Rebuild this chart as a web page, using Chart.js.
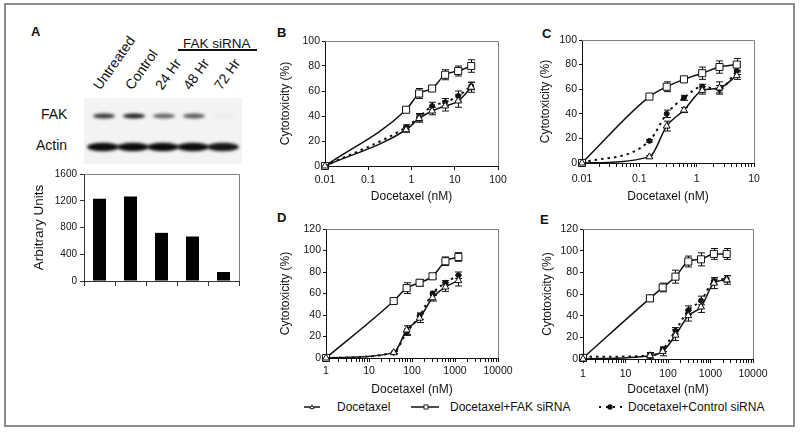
<!DOCTYPE html>
<html>
<head>
<meta charset="utf-8">
<script src="https://cdn.jsdelivr.net/npm/chart.js@4.4.1/dist/chart.umd.min.js"></script>
<style>
body { margin: 0; background: #fff; font-family: "Liberation Sans", Arial, sans-serif; }
#fig { position: relative; width: 800px; height: 435px; overflow: hidden; }
#frame { position: absolute; left: 4px; top: 3px; width: 787px; height: 420px; border: 2px solid #8c8c8c; }
canvas { position: absolute; }
.t { position: absolute; line-height: 1; white-space: nowrap; color: #111; }
.lt { font-weight: bold; font-size: 13px; }
.lane { font-size: 14px; transform-origin: 0 100%; transform: rotate(-55deg); }
.leg { font-size: 12px; }
</style>
</head>
<body>
<div id="fig">
  <div id="frame"></div>
  <div class="t lt" style="left:31px;top:25px">A</div>
  <div class="t lt" style="left:277px;top:26px">B</div>
  <div class="t lt" style="left:542px;top:27px">C</div>
  <div class="t lt" style="left:277px;top:211px">D</div>
  <div class="t lt" style="left:540px;top:213px">E</div>

  <div class="t" style="left:183px;top:37px;font-size:13.5px">FAK siRNA</div>
  <div style="position:absolute;left:178px;top:49px;width:79px;height:2px;background:#111"></div>
  <div id="lanes"></div>
  <div class="t" style="left:41px;top:107px;font-size:14px">FAK</div>
  <div class="t" style="left:36px;top:138px;font-size:14px">Actin</div>
  <canvas id="blot"></canvas>
  <canvas id="chartA"></canvas>
  <canvas id="chartB"></canvas>
  <canvas id="chartC"></canvas>
  <canvas id="chartD"></canvas>
  <canvas id="chartE"></canvas>

  <svg class="t" style="left:304px;top:403px" width="16" height="8"><line x1="0" y1="4" x2="16" y2="4" stroke="#111" stroke-width="1.5"/><path d="M8 1.8 L10 5.6 L6 5.6 Z" fill="#fff" stroke="#111" stroke-width="0.9"/></svg>
  <div class="t leg" style="left:337px;top:401px">Docetaxel</div>
  <svg class="t" style="left:411px;top:403px" width="28" height="8"><line x1="0" y1="4" x2="28" y2="4" stroke="#111" stroke-width="1.5"/><rect x="13" y="2" width="4" height="4" fill="#fff" stroke="#111" stroke-width="0.9"/></svg>
  <div class="t leg" style="left:450px;top:401px">Docetaxel+FAK siRNA</div>
  <svg class="t" style="left:598px;top:403px" width="26" height="8"><line x1="1" y1="4" x2="26" y2="4" stroke="#111" stroke-width="2" stroke-dasharray="2 5"/><circle cx="12" cy="4" r="2.7" fill="#111"/></svg>
  <div class="t leg" style="left:628px;top:401px">Docetaxel+Control siRNA</div>
</div>
<script>
Chart.defaults.font.family = "'Liberation Sans', Arial, sans-serif";
Chart.defaults.color = '#111';

// panel A
var lanes = ['Untreated', 'Control', '24 Hr', '48 Hr', '72 Hr'];
var fakUnits = [1230, 1265, 720, 665, 135];
var fakBlot = [0.8, 0.9, 0.6, 0.65, 0.04];
var actinBlot = [1, 1, 1, 1, 0.95];
var aTicks = ['0', '400', '800', '1200', '1600'];

// panel B
var bX = [0.01, 0.75, 1.5, 3, 6, 12, 24];
var bDoc = [0, 29, 38, 44, 48, 52, 63];
var bDocErr = [1, 2, 3, 3, 4, 5, 4];
var bFak = [0, 45, 58, 62, 73, 76, 80];
var bFakErr = [1, 1.5, 4, 2, 4, 4, 5];
var bCtl = [0, 31, 39, 48, 51, 56, 64];
var bCtlErr = [1, 2, 3, 3, 3, 4, 3];
var bTicks = ['0.01', '0.1', '1', '10', '100'];

// panel C
var cX = [0.01, 0.15, 0.3, 0.6, 1.25, 2.5, 5];
var cDoc = [0, 5, 30, 43, 59, 61, 71];
var cDocErr = [1, 1, 4, 2, 3, 5, 3];
var cFak = [0, 54, 62, 68, 73, 78, 80];
var cFakErr = [1, 2, 4, 2, 5, 5, 5];
var cCtl = [0, 18, 40, 53, 62, 60, 75];
var cCtlErr = [1, 1, 3, 2, 2, 3, 3];
var cTicks = ['0.01', '0.1', '1', '10'];

// panel D
var dX = [1, 37.5, 75, 150, 300, 600, 1200];
var dDoc = [0, 5, 26, 37, 56, 66, 72];
var dDocErr = [1, 1, 4, 4, 3, 4, 5];
var dFak = [0, 53, 65, 70, 76, 90, 94];
var dFakErr = [1, 2, 5, 3, 2, 4, 4];
var dCtl = [0, 5, 24, 39, 60, 70, 77];
var dCtlErr = [1, 1, 3, 3, 2, 2, 3];
var dTicks = ['1', '10', '100', '1000', '10000'];

// panel E
var eX = [1, 37.5, 75, 150, 300, 600, 1200, 2400];
var eDoc = [0, 3, 7, 22, 40, 48, 70, 73];
var eDocErr = [1, 3, 4, 5, 5, 5, 5, 4];
var eFak = [1, 56, 66, 76, 90, 92, 97, 97];
var eFakErr = [3, 3, 4, 6, 5, 6, 5, 5];
var eCtl = [2, 3, 9, 26, 45, 54, 72, 74];
var eCtlErr = [1, 2, 2, 3, 4, 4, 3, 3];
var eTicks = ['1', '10', '100', '1000', '10000'];

var ink = '#111';

var plotBox = {
    id: 'plotBox',
    beforeDatasetsDraw: function (chart) {
        var ctx = chart.ctx, a = chart.chartArea;
        ctx.save();
        ctx.strokeStyle = '#808080';
        ctx.lineWidth = 1;
        ctx.beginPath();
        ctx.moveTo(a.left, a.top + 0.5);
        ctx.lineTo(a.right + 0.5, a.top + 0.5);
        ctx.lineTo(a.right + 0.5, a.bottom);
        ctx.stroke();
        ctx.restore();
    }
};

var errorBars = {
    id: 'errorBars',
    beforeDatasetsDraw: function (chart) {
        var ctx = chart.ctx, ys = chart.scales.y;
        chart.data.datasets.forEach(function (ds, i) {
            if (!ds.errors) return;
            var meta = chart.getDatasetMeta(i);
            ctx.save();
            ctx.strokeStyle = ink;
            ctx.lineWidth = 1;
            meta.data.forEach(function (pt, j) {
                var e = ds.errors[j], v = ds.data[j].y;
                var top = ys.getPixelForValue(v + e), bot = ys.getPixelForValue(Math.max(v - e, 0));
                var x = Math.round(pt.x) + 0.5;
                ctx.beginPath();
                ctx.moveTo(x, top); ctx.lineTo(x, bot);
                ctx.moveTo(x - 3.5, top); ctx.lineTo(x + 3.5, top);
                ctx.moveTo(x - 3.5, bot); ctx.lineTo(x + 3.5, bot);
                ctx.stroke();
            });
            ctx.restore();
        });
    }
};

var styles = {
    doc: { label: 'Docetaxel', borderColor: ink, borderWidth: 1.5, pointStyle: 'triangle', pointRadius: 4,
        pointBackgroundColor: '#fff', pointBorderColor: ink, pointBorderWidth: 1 },
    fak: { label: 'Docetaxel+FAK siRNA', borderColor: ink, borderWidth: 1.5, pointStyle: 'rect', pointRadius: 5,
        pointBackgroundColor: '#fff', pointBorderColor: ink, pointBorderWidth: 1 },
    ctl: { label: 'Docetaxel+Control siRNA', borderColor: ink, borderWidth: 2, borderDash: [2.5, 4], pointStyle: 'circle',
        pointRadius: 2.5, pointBackgroundColor: ink, pointBorderColor: ink, pointBorderWidth: 1 }
};

var place = function (id, f) {
    var cv = document.getElementById(id);
    cv.width = f.r - f.l;
    cv.height = f.b - f.t;
    cv.style.left = f.l + 'px';
    cv.style.top = f.t + 'px';
    return cv;
};

var makeLine = function (id, f, p, xs, xLabels, minor, yMax, sets, tickPad) {
    var cv = place(id, f);
    var majors = xLabels.map(Number);
    var datasets = sets.map(function (s) {
        var ds = {
            data: xs.map(function (x, i) { return { x: x, y: s.y[i] }; }),
            errors: s.err, showLine: true, clip: false, cubicInterpolationMode: 'monotone'
        };
        return Object.assign(ds, styles[s.kind]);
    });
    return new Chart(cv, {
        type: 'scatter',
        data: { datasets: datasets },
        options: {
            responsive: false, animation: false, devicePixelRatio: 1,
            layout: { padding: { top: p.t - f.t, right: f.r - p.r, left: 0, bottom: 0 } },
            plugins: { legend: { display: false }, tooltip: { enabled: false } },
            scales: {
                x: {
                    type: 'logarithmic', min: majors[0], max: majors[majors.length - 1],
                    afterFit: function (s) { s.height = f.b - p.b; },
                    afterBuildTicks: function (s) {
                        var t = [];
                        majors.forEach(function (m, i) {
                            t.push({ value: m, major: true });
                            if (minor && i < majors.length - 1) {
                                for (var k = 2; k < 10; k++) t.push({ value: m * k, major: false });
                            }
                        });
                        s.ticks = t;
                    },
                    grid: { drawOnChartArea: false, tickLength: 4, color: ink },
                    border: { color: ink, width: 1 },
                    ticks: {
                        autoSkip: false, maxRotation: 0, padding: tickPad, font: { size: 10.5 }, color: ink,
                        callback: function (v) {
                            for (var i = 0; i < majors.length; i++) {
                                if (Math.abs(majors[i] - v) / majors[i] < 1e-6) return xLabels[i];
                            }
                            return '';
                        }
                    },
                    title: { display: true, text: 'Docetaxel (nM)', padding: 0, font: { size: 12 }, color: ink }
                },
                y: {
                    min: 0, max: yMax,
                    afterFit: function (s) { s.width = p.l - f.l; },
                    grid: { drawOnChartArea: false, tickLength: 3, color: ink },
                    border: { color: ink, width: 1 },
                    ticks: { stepSize: 20, padding: 2, font: { size: 10.5 }, color: ink },
                    title: { display: true, text: 'Cytotoxicity (%)', padding: 0, font: { size: 12 }, color: ink }
                }
            }
        },
        plugins: [plotBox, errorBars]
    });
};

makeLine('chartB', { l: 278, t: 25, r: 520, b: 204 }, { l: 325, t: 41, r: 498, b: 166 }, bX, bTicks, false, 100, [
    { kind: 'doc', y: bDoc, err: bDocErr }, { kind: 'fak', y: bFak, err: bFakErr }, { kind: 'ctl', y: bCtl, err: bCtlErr }
], 3.5);
makeLine('chartC', { l: 538, t: 25, r: 775, b: 204 }, { l: 582, t: 40, r: 754, b: 163 }, cX, cTicks, true, 100, [
    { kind: 'doc', y: cDoc, err: cDocErr }, { kind: 'fak', y: cFak, err: cFakErr }, { kind: 'ctl', y: cCtl, err: cCtlErr }
], 6);
makeLine('chartD', { l: 278, t: 212, r: 520, b: 397 }, { l: 326, t: 229, r: 498, b: 358 }, dX, dTicks, true, 120, [
    { kind: 'doc', y: dDoc, err: dDocErr }, { kind: 'fak', y: dFak, err: dFakErr }, { kind: 'ctl', y: dCtl, err: dCtlErr }
], 2.5);
makeLine('chartE', { l: 540, t: 212, r: 775, b: 397 }, { l: 583, t: 229, r: 753, b: 359 }, eX, eTicks, true, 120, [
    { kind: 'doc', y: eDoc, err: eDocErr }, { kind: 'fak', y: eFak, err: eFakErr }, { kind: 'ctl', y: eCtl, err: eCtlErr }
], 5);

// bar chart of panel A
var fA = { l: 31, t: 160, r: 255, b: 300 }, pA = { l: 84, t: 174, r: 239, b: 281 };
var aVals = aTicks.map(Number);
new Chart(place('chartA', fA), {
    type: 'bar',
    data: { labels: lanes, datasets: [{ data: fakUnits, backgroundColor: '#000', barPercentage: 0.42, categoryPercentage: 1 }] },
    options: {
        responsive: false, animation: false, devicePixelRatio: 1,
        layout: { padding: { top: pA.t - fA.t, right: fA.r - pA.r, left: 0, bottom: 0 } },
        plugins: { legend: { display: false }, tooltip: { enabled: false } },
        scales: {
            x: {
                afterFit: function (s) { s.height = fA.b - pA.b; },
                grid: { drawOnChartArea: false, tickLength: 5, offset: true, color: '#333' },
                border: { color: '#333', width: 1 },
                ticks: { display: false }
            },
            y: {
                min: aVals[0], max: aVals[aVals.length - 1],
                afterFit: function (s) { s.width = pA.l - fA.l; },
                afterBuildTicks: function (s) { s.ticks = aVals.map(function (v) { return { value: v }; }); },
                grid: { drawOnChartArea: false, tickLength: 4, color: '#333' },
                border: { color: '#333', width: 1 },
                ticks: {
                    padding: 3, font: { size: 10 }, color: ink,
                    callback: function (v) { return aTicks[aVals.indexOf(v)]; }
                },
                title: { display: true, text: 'Arbitrary Units', padding: 0, font: { size: 13.5 }, color: ink }
            }
        }
    },
    plugins: [plotBox]
});

// lane labels over the blot
var laneBox = document.getElementById('lanes');
var laneX = [102, 134, 164, 192, 223];
lanes.forEach(function (name, i) {
    var d = document.createElement('div');
    d.className = 't lane';
    d.textContent = name;
    d.style.left = laneX[i] + 'px';
    d.style.top = (92 - 14) + 'px';
    laneBox.appendChild(d);
});

// western blot picture
var blot = place('blot', { l: 84, t: 98, r: 242, b: 164 });
var g = blot.getContext('2d');
g.fillStyle = '#f3f3f3';
g.fillRect(0, 0, blot.width, blot.height);
g.filter = 'blur(1.6px)';
fakBlot.forEach(function (v, i) {
    g.fillStyle = 'rgba(10,10,10,' + v + ')';
    g.beginPath();
    g.ellipse(20 + i * 30, 18, 11, 2.6, 0, 0, Math.PI * 2);
    g.fill();
});
actinBlot.forEach(function (v, i) {
    g.fillStyle = 'rgba(10,10,10,' + v + ')';
    g.beginPath();
    g.ellipse(19 + i * 30, 49, 16, 4.2, 0, 0, Math.PI * 2);
    g.fill();
});
</script>
</body>
</html>
